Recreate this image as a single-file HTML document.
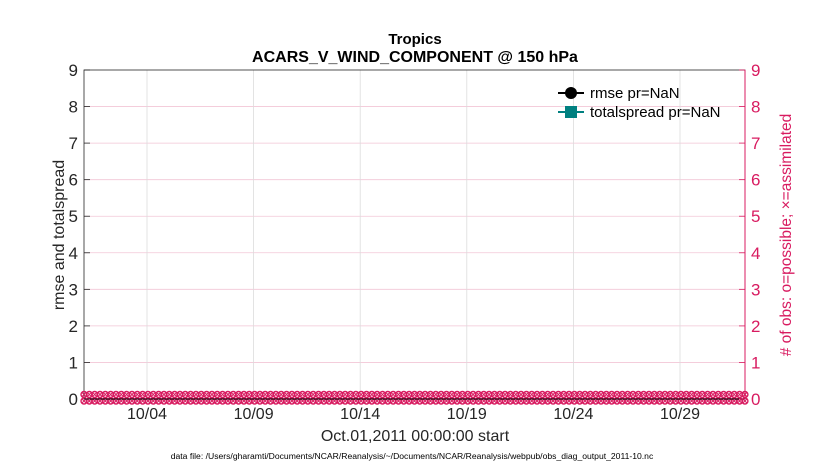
<!DOCTYPE html>
<html><head><meta charset="utf-8"><style>
body{margin:0;background:#fff;width:830px;height:470px;overflow:hidden}
text{font-family:"Liberation Sans",sans-serif}
</style></head><body>
<svg id="s" width="830" height="470" xmlns="http://www.w3.org/2000/svg">
<rect width="830" height="470" fill="#fff"/>
<g id="grid"></g>
<rect x="84" y="70" width="661" height="329" fill="none" stroke="#262626" stroke-width="0.8"/>
<line x1="745" y1="70" x2="745" y2="399" stroke="#d81b60" stroke-width="1"/>
<g id="marks"></g>
<text x="415" y="44" font-size="15" font-weight="bold" text-anchor="middle" fill="#000">Tropics</text>
<text x="415" y="62" font-size="16" font-weight="bold" text-anchor="middle" fill="#000">ACARS_V_WIND_COMPONENT @ 150 hPa</text>
<text x="415" y="441" font-size="16" text-anchor="middle" fill="#262626">Oct.01,2011 00:00:00 start</text>
<text x="412" y="459" font-size="8.6" text-anchor="middle" fill="#000">data file: /Users/gharamti/Documents/NCAR/Reanalysis/~/Documents/NCAR/Reanalysis/webpub/obs_diag_output_2011-10.nc</text>
<text transform="translate(64,235) rotate(-90)" font-size="16" text-anchor="middle" fill="#262626">rmse and totalspread</text>
<text transform="translate(791,235) rotate(-90)" font-size="15.5" text-anchor="middle" fill="#d81b60"># of obs: o=possible; ×=assimilated</text>
<line x1="558" y1="93" x2="584" y2="93" stroke="#000" stroke-width="2"/>
<circle cx="571" cy="93" r="6" fill="#000"/>
<text x="590" y="98" font-size="15" fill="#000">rmse pr=NaN</text>
<line x1="558" y1="112" x2="584" y2="112" stroke="#008080" stroke-width="2"/>
<rect x="565" y="106" width="12" height="12" fill="#008080"/>
<text x="590" y="117" font-size="15" fill="#000">totalspread pr=NaN</text>
</svg>
<script>
var ns="http://www.w3.org/2000/svg",g=document.getElementById('grid'),m=document.getElementById('marks'),s=document.getElementById('s');
function el(p,t,a,txt){var e=document.createElementNS(ns,t);for(var k in a)e.setAttribute(k,a[k]);if(txt!==undefined)e.textContent=txt;p.appendChild(e);return e;}
for(var i=0;i<=9;i++){var y=399-i*329/9;
 if(i>0&&i<9)el(g,'line',{x1:84,x2:745,y1:y,y2:y,stroke:'#f2c6d6','stroke-width':0.8});
 el(s,'text',{x:78,y:y+6,'font-size':17,'text-anchor':'end',fill:'#262626'},i);
 el(s,'text',{x:751,y:y+6,'font-size':17,fill:'#d81b60'},i);
 el(s,'line',{x1:84,x2:90,y1:y,y2:y,stroke:'#262626','stroke-width':0.8});
 el(s,'line',{x1:739,x2:745,y1:y,y2:y,stroke:'#d81b60','stroke-width':0.8});
}
var lab=['10/04','10/09','10/14','10/19','10/24','10/29'];
for(var j=0;j<6;j++){var x=147+j*106.6;
 el(g,'line',{x1:x,x2:x,y1:70,y2:399,stroke:'#dcdcdc','stroke-width':0.8});
 el(s,'text',{x:x,y:419,'font-size':16,'text-anchor':'middle',fill:'#262626'},lab[j]);
}
for(var x=84;x<=748;x+=5.33){
 [394.5,401].forEach(function(y){
  el(m,'circle',{cx:x,cy:y,r:3,fill:'none',stroke:'#d81b60','stroke-width':1.4});
  el(m,'path',{d:'M'+(x-2)+' '+(y-2)+'L'+(x+2)+' '+(y+2)+'M'+(x-2)+' '+(y+2)+'L'+(x+2)+' '+(y-2),stroke:'#d81b60','stroke-width':1});
 });
}
el(m,'line',{x1:84,x2:745,y1:399,y2:399,stroke:'#000','stroke-width':1});
</script>
</body></html>
